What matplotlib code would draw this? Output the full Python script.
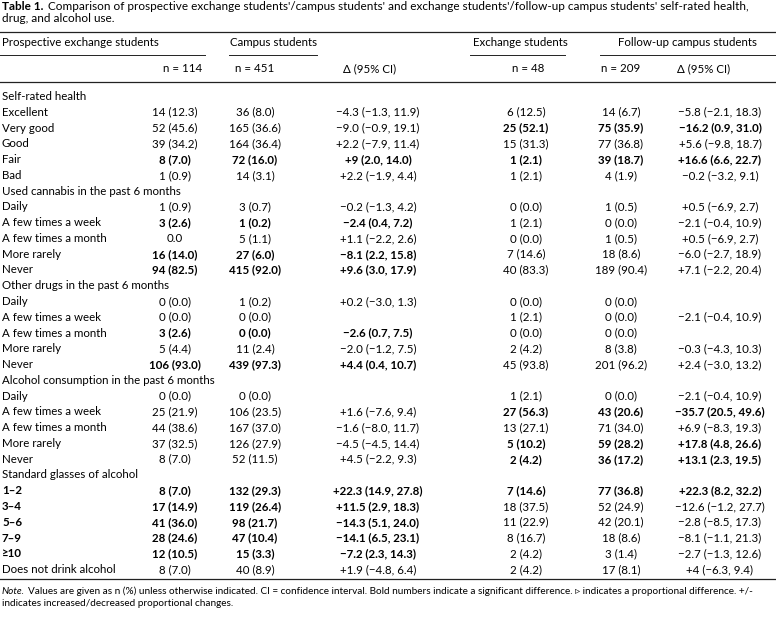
import matplotlib
matplotlib.use("Agg")
import matplotlib.pyplot as plt

plt.rcParams['font.family'] = ['Lato', 'DejaVu Sans']

# table rows
labels = [
    "Self-rated health", "Excellent", "Very good", "Good", "Fair", "Bad",
    "Used cannabis in the past 6 months", "Daily", "A few times a week",
    "A few times a month", "More rarely", "Never",
    "Other drugs in the past 6 months", "Daily", "A few times a week",
    "A few times a month", "More rarely", "Never",
    "Alcohol consumption in the past 6 months", "Daily", "A few times a week",
    "A few times a month", "More rarely", "Never",
    "Standard glasses of alcohol", "1\u20132", "3\u20134", "5\u20136", "7\u20139",
    "\u226510", "Does not drink alcohol",
]

prospective = ["", "14 (12.3)", "52 (45.6)", "39 (34.2)", "8 (7.0)", "1 (0.9)",
               "", "1 (0.9)", "3 (2.6)", "0.0", "16 (14.0)", "94 (82.5)",
               "", "0 (0.0)", "0 (0.0)", "3 (2.6)", "5 (4.4)", "106 (93.0)",
               "", "0 (0.0)", "25 (21.9)", "44 (38.6)", "37 (32.5)", "8 (7.0)",
               "", "8 (7.0)", "17 (14.9)", "41 (36.0)", "28 (24.6)", "12 (10.5)", "8 (7.0)"]
campus = ["", "36 (8.0)", "165 (36.6)", "164 (36.4)", "72 (16.0)", "14 (3.1)",
          "", "3 (0.7)", "1 (0.2)", "5 (1.1)", "27 (6.0)", "415 (92.0)",
          "", "1 (0.2)", "0 (0.0)", "0 (0.0)", "11 (2.4)", "439 (97.3)",
          "", "0 (0.0)", "106 (23.5)", "167 (37.0)", "126 (27.9)", "52 (11.5)",
          "", "132 (29.3)", "119 (26.4)", "98 (21.7)", "47 (10.4)", "15 (3.3)", "40 (8.9)"]
delta1 = ["", "\u22124.3 (\u22121.3, 11.9)", "\u22129.0 (\u22120.9, 19.1)", "+2.2 (\u22127.9, 11.4)",
          "+9 (2.0, 14.0)", "+2.2 (\u22121.9, 4.4)",
          "", "\u22120.2 (\u22121.3, 4.2)", "\u22122.4 (0.4, 7.2)", "+1.1 (\u22122.2, 2.6)",
          "\u22128.1 (2.2, 15.8)", "+9.6 (3.0, 17.9)",
          "", "+0.2 (\u22123.0, 1.3)", "", "\u22122.6 (0.7, 7.5)", "\u22122.0 (\u22121.2, 7.5)",
          "+4.4 (0.4, 10.7)",
          "", "", "+1.6 (\u22127.6, 9.4)", "\u22121.6 (\u22128.0, 11.7)", "\u22124.5 (\u22124.5, 14.4)",
          "+4.5 (\u22122.2, 9.3)",
          "", "+22.3 (14.9, 27.8)", "+11.5 (2.9, 18.3)", "\u221214.3 (5.1, 24.0)",
          "\u221214.1 (6.5, 23.1)", "\u22127.2 (2.3, 14.3)", "+1.9 (\u22124.8, 6.4)"]
exchange = ["", "6 (12.5)", "25 (52.1)", "15 (31.3)", "1 (2.1)", "1 (2.1)",
            "", "0 (0.0)", "1 (2.1)", "0 (0.0)", "7 (14.6)", "40 (83.3)",
            "", "0 (0.0)", "1 (2.1)", "0 (0.0)", "2 (4.2)", "45 (93.8)",
            "", "1 (2.1)", "27 (56.3)", "13 (27.1)", "5 (10.2)", "2 (4.2)",
            "", "7 (14.6)", "18 (37.5)", "11 (22.9)", "8 (16.7)", "2 (4.2)", "2 (4.2)"]
followup = ["", "14 (6.7)", "75 (35.9)", "77 (36.8)", "39 (18.7)", "4 (1.9)",
            "", "1 (0.5)", "0 (0.0)", "1 (0.5)", "18 (8.6)", "189 (90.4)",
            "", "0 (0.0)", "0 (0.0)", "0 (0.0)", "8 (3.8)", "201 (96.2)",
            "", "0 (0.0)", "43 (20.6)", "71 (34.0)", "59 (28.2)", "36 (17.2)",
            "", "77 (36.8)", "52 (24.9)", "42 (20.1)", "18 (8.6)", "3 (1.4)", "17 (8.1)"]
delta2 = ["", "\u22125.8 (\u22122.1, 18.3)", "\u221216.2 (0.9, 31.0)", "+5.6 (\u22129.8, 18.7)",
          "+16.6 (6.6, 22.7)", "\u22120.2 (\u22123.2, 9.1)",
          "", "+0.5 (\u22126.9, 2.7)", "\u22122.1 (\u22120.4, 10.9)", "+0.5 (\u22126.9, 2.7)",
          "\u22126.0 (\u22122.7, 18.9)", "+7.1 (\u22122.2, 20.4)",
          "", "", "\u22122.1 (\u22120.4, 10.9)", "", "\u22120.3 (\u22124.3, 10.3)", "+2.4 (\u22123.0, 13.2)",
          "", "\u22122.1 (\u22120.4, 10.9)", "\u221235.7 (20.5, 49.6)", "+6.9 (\u22128.3, 19.3)",
          "+17.8 (4.8, 26.6)", "+13.1 (2.3, 19.5)",
          "", "+22.3 (8.2, 32.2)", "\u221212.6 (\u22121.2, 27.7)", "\u22122.8 (\u22128.5, 17.3)",
          "\u22128.1 (\u22121.1, 21.3)", "\u22122.7 (\u22121.3, 12.6)", "+4 (\u22126.3, 9.4)"]

# significant differences (bold): prospective vs campus, exchange vs follow-up
sig1 = [4, 8, 10, 11, 15, 17, 25, 26, 27, 28, 29]
sig2 = [2, 4, 20, 22, 23, 25]
bold_labels = [25, 26, 27, 28, 29]

groups = ["Prospective exchange students", "Campus students",
          "Exchange students", "Follow-up campus students"]
n_labels = ["n = 114", "n = 451", "\u0394 (95% CI)",
            "n = 48", "n = 209", "\u0394 (95% CI)"]

title_lead = "Table 1."
title_1 = ("Comparison of prospective exchange students'/campus students' and "
           "exchange students'/follow-up campus students' self-rated health,")
title_2 = "drug, and alcohol use."
note_lead = "Note."
note_1 = ("Values are given as n (%) unless otherwise indicated. CI = confidence "
          "interval. Bold numbers indicate a significant difference. \u25b9 indicates a "
          "proportional difference. +/-")
note_2 = "indicates increased/decreased proportional changes."

W, H = 776, 620
fig = plt.figure(figsize=(W / 100, H / 100), dpi=100)
ax = fig.add_axes([0, 0, 1, 1])
ax.set_xlim(0, W)
ax.set_ylim(H, 0)
ax.axis("off")
renderer = fig.canvas.get_renderer()


def right_of(t, gap=4):
    bb = t.get_window_extent(renderer).transformed(ax.transData.inverted())
    return max(bb.x0, bb.x1) + gap


fs = 8.3
col_x = [175, 255, 378, 526, 621, 720]

# title
t = ax.text(2, 6.5, title_lead, fontsize=fs + 0.2, fontweight="bold", va="center")
ax.text(right_of(t, 5), 6.5, title_1, fontsize=fs + 0.2, va="center")
ax.text(2, 19, title_2, fontsize=fs + 0.2, va="center")

# rules
ax.plot([0, W], [32, 32], color="#222222", lw=0.9)
ax.plot([0, W], [82, 82], color="#222222", lw=0.9)
ax.plot([0, W], [579, 579], color="#222222", lw=0.9)
for x0, x1 in [(0, 205), (229, 317), (470, 565), (600, W)]:
    ax.plot([x0, x1], [55, 55], color="#222222", lw=0.7)

# column group headers
ax.text(2, 43, groups[0], fontsize=fs, va="center")
ax.text(230, 43, groups[1], fontsize=fs, va="center")
ax.text(473, 43, groups[2], fontsize=fs, va="center")
ax.text(688, 43, groups[3], fontsize=fs, va="center", ha="center")

# n row
ax.text(202, 69, n_labels[0], fontsize=fs, va="center", ha="right")
ax.text(255, 69, n_labels[1], fontsize=fs, va="center", ha="center")
ax.text(370, 69, n_labels[2], fontsize=fs, va="center", ha="center")
ax.text(528, 69, n_labels[3], fontsize=fs, va="center", ha="center")
ax.text(601, 69, n_labels[4], fontsize=fs, va="center", ha="left")
ax.text(704, 69, n_labels[5], fontsize=fs, va="center", ha="center")

# body
y0, dy = 96.5, 15.77
cols = [prospective, campus, delta1, exchange, followup, delta2]
for i, lab in enumerate(labels):
    y = y0 + i * dy
    ax.text(2, y, lab, fontsize=fs, va="center",
            fontweight="bold" if i in bold_labels else "normal")
    for j, col in enumerate(cols):
        if not col[i]:
            continue
        bold = (i in sig1) if j < 3 else (i in sig2)
        ax.text(col_x[j], y, col[i], fontsize=fs, va="center", ha="center",
                fontweight="bold" if bold else "normal")

# note
nfs = 7.2
t = ax.text(2, 591, note_lead, fontsize=nfs, style="italic", va="center")
ax.text(right_of(t, 3), 591, note_1, fontsize=nfs, va="center")
ax.text(2, 603.5, note_2, fontsize=nfs, va="center")

fig.savefig("out.png", dpi=100)
